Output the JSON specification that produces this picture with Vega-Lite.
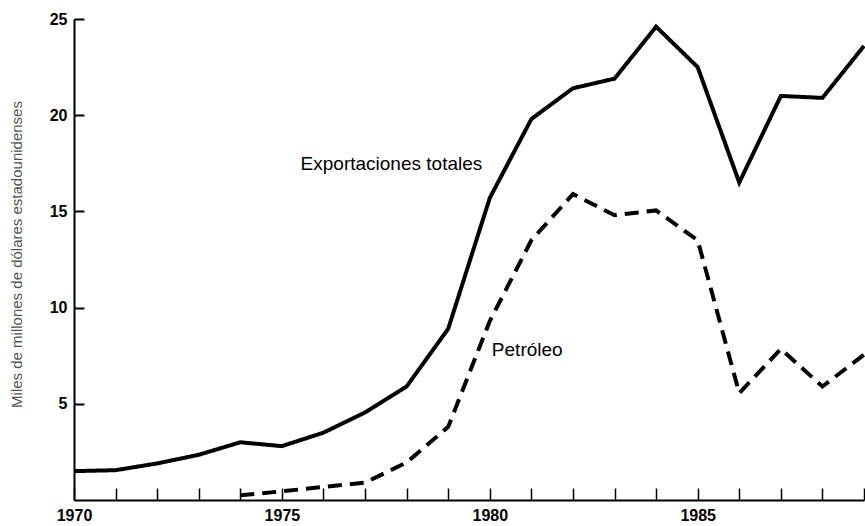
{
  "$schema": "https://vega.github.io/schema/vega-lite/v6.json",
  "width": 790,
  "height": 481,
  "autosize": {"type": "none"},
  "padding": {"left": 74, "top": 19, "right": 1, "bottom": 26},
  "background": "white",
  "config": {"view": {"stroke": null}, "font": "Liberation Sans"},
  "datasets": {
    "series": [
      {"serie": "Exportaciones totales", "year": 1970, "value": 1.5},
      {"serie": "Exportaciones totales", "year": 1971, "value": 1.55},
      {"serie": "Exportaciones totales", "year": 1972, "value": 1.9},
      {"serie": "Exportaciones totales", "year": 1973, "value": 2.35},
      {"serie": "Exportaciones totales", "year": 1974, "value": 3.0},
      {"serie": "Exportaciones totales", "year": 1975, "value": 2.8},
      {"serie": "Exportaciones totales", "year": 1976, "value": 3.5},
      {"serie": "Exportaciones totales", "year": 1977, "value": 4.55},
      {"serie": "Exportaciones totales", "year": 1978, "value": 5.9},
      {"serie": "Exportaciones totales", "year": 1979, "value": 8.9},
      {"serie": "Exportaciones totales", "year": 1980, "value": 15.7},
      {"serie": "Exportaciones totales", "year": 1981, "value": 19.8},
      {"serie": "Exportaciones totales", "year": 1982, "value": 21.4},
      {"serie": "Exportaciones totales", "year": 1983, "value": 21.9},
      {"serie": "Exportaciones totales", "year": 1984, "value": 24.6},
      {"serie": "Exportaciones totales", "year": 1985, "value": 22.5},
      {"serie": "Exportaciones totales", "year": 1986, "value": 16.5},
      {"serie": "Exportaciones totales", "year": 1987, "value": 21.0},
      {"serie": "Exportaciones totales", "year": 1988, "value": 20.9},
      {"serie": "Exportaciones totales", "year": 1989, "value": 23.6},
      {"serie": "Petróleo", "year": 1974, "value": 0.25},
      {"serie": "Petróleo", "year": 1975, "value": 0.45},
      {"serie": "Petróleo", "year": 1976, "value": 0.68},
      {"serie": "Petróleo", "year": 1977, "value": 0.9},
      {"serie": "Petróleo", "year": 1978, "value": 1.95},
      {"serie": "Petróleo", "year": 1979, "value": 3.8},
      {"serie": "Petróleo", "year": 1980, "value": 9.3},
      {"serie": "Petróleo", "year": 1981, "value": 13.5},
      {"serie": "Petróleo", "year": 1982, "value": 15.9},
      {"serie": "Petróleo", "year": 1983, "value": 14.8},
      {"serie": "Petróleo", "year": 1984, "value": 15.05},
      {"serie": "Petróleo", "year": 1985, "value": 13.5},
      {"serie": "Petróleo", "year": 1986, "value": 5.55},
      {"serie": "Petróleo", "year": 1987, "value": 7.85},
      {"serie": "Petróleo", "year": 1988, "value": 5.9},
      {"serie": "Petróleo", "year": 1989, "value": 7.55}
    ],
    "labels": [
      {"label": "Exportaciones totales", "year": 1975.45, "value": 17.45},
      {"label": "Petróleo", "year": 1980.05, "value": 7.78}
    ]
  },
  "layer": [
    {
      "data": {"name": "series"},
      "mark": {"type": "line", "strokeWidth": 4, "color": "black", "strokeCap": "butt"},
      "encoding": {
        "x": {
          "field": "year", "type": "quantitative",
          "scale": {"domain": [1970, 1989], "nice": false, "zero": false},
          "axis": {
            "values": [1970, 1971, 1972, 1973, 1974, 1975, 1976, 1977, 1978, 1979, 1980, 1981, 1982, 1983, 1984, 1985, 1986, 1987, 1988, 1989],
            "format": "d",
            "labelExpr": "datum.value % 5 === 0 ? datum.label : ''",
            "tickSize": -12,
            "labelPadding": 19,
            "domainColor": "black", "domainWidth": 2,
            "tickColor": "black", "tickWidth": 1.5,
            "labelFontSize": 16, "labelFontWeight": "bold", "labelColor": "black",
            "labelFlush": false, "labelOverlap": false,
            "grid": false, "title": null
          }
        },
        "y": {
          "field": "value", "type": "quantitative",
          "scale": {"domain": [0, 25], "nice": false},
          "axis": {
            "values": [5, 10, 15, 20, 25],
            "tickSize": -10,
            "labelPadding": 17,
            "domainColor": "black", "domainWidth": 2,
            "tickColor": "black", "tickWidth": 2,
            "labelFontSize": 16, "labelFontWeight": "bold", "labelColor": "black",
            "grid": false,
            "title": "Miles de millones de dólares estadounidenses",
            "titleFontSize": 15, "titleFontWeight": "normal", "titleColor": "#555555",
            "titleX": -58, "titleY": 235, "titleAngle": 270,
            "titleAlign": "center", "titleBaseline": "middle"
          }
        },
        "strokeDash": {
          "field": "serie", "type": "nominal",
          "scale": {"domain": ["Exportaciones totales", "Petróleo"], "range": [[1, 0], [14, 8]]},
          "legend": null
        }
      }
    },
    {
      "data": {"name": "labels"},
      "mark": {"type": "text", "align": "left", "baseline": "middle", "fontSize": 19, "color": "black"},
      "encoding": {
        "x": {"field": "year", "type": "quantitative"},
        "y": {"field": "value", "type": "quantitative"},
        "text": {"field": "label"}
      }
    }
  ]
}
